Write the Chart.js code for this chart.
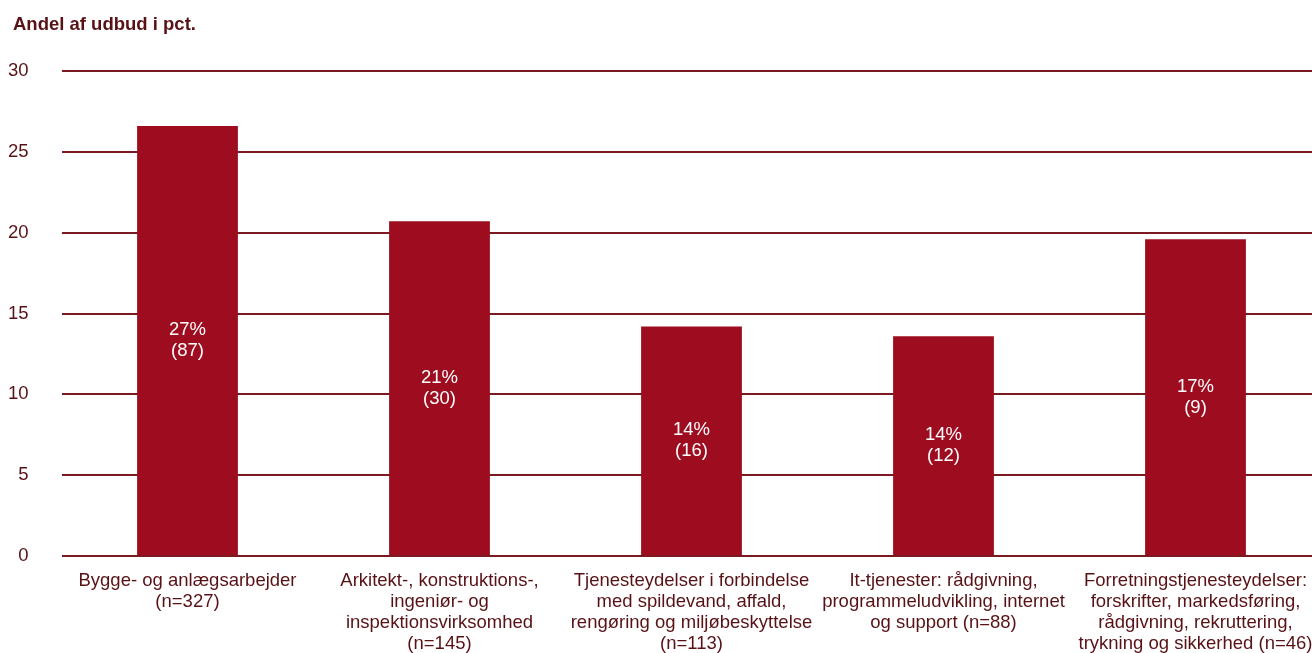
<!DOCTYPE html>
<html lang="da">
<head>
<meta charset="utf-8">
<title>Andel af udbud i pct.</title>
<script src="https://cdn.jsdelivr.net/npm/chart.js@4.4.1/dist/chart.umd.min.js"></script>
<style>
  html, body { margin: 0; padding: 0; background: #ffffff; overflow: hidden; }
  #wrap { position: absolute; left: 0; top: 0; width: 1322px; height: 653px; }
</style>
</head>
<body>
<div id="wrap"><canvas id="chart" width="1322" height="653"></canvas></div>
<script>
// Kategorier (udbudstyper) og antal udbud i hver kategori
const categories = [
  ["Bygge- og anlægsarbejder"],
  ["Arkitekt-, konstruktions-,", "ingeniør- og", "inspektionsvirksomhed"],
  ["Tjenesteydelser i forbindelse", "med spildevand, affald,", "rengøring og miljøbeskyttelse"],
  ["It-tjenester: rådgivning,", "programmeludvikling, internet", "og support"],
  ["Forretningstjenesteydelser:", "forskrifter, markedsføring,", "rådgivning, rekruttering,", "trykning og sikkerhed"]
];
const totals = [327, 145, 113, 88, 46];

// Andel af udbud i pct. (søjlehøjder)
const shares = [26.6, 20.7, 14.2, 13.6, 19.6];

// Tekst i søjlerne: procent og antal
const pctLabels = ["27%", "21%", "14%", "14%", "17%"];
const counts = [87, 30, 16, 12, 9];

// Y-aksens ticks
const yTicks = [0, 5, 10, 15, 20, 25, 30];

const yTitle = "Andel af udbud i pct.";

// "(n=...)" på egen linje, eller sammen med sidste tekstlinje for de to sidste kategorier
const xLabels = categories.map((lines, i) => {
  const out = lines.slice();
  const n = "(n=" + totals[i] + ")";
  if (i === 3 || i === 4) {
    out[out.length - 1] = out[out.length - 1] + " " + n;
  } else {
    out.push(n);
  }
  return out;
});

const FONT = "'Liberation Sans', Arial, Helvetica, sans-serif";
const BAR = "#9d0d1f";
const GRID = "#7a1a20";
const TEXT = "#581115";

const titlePlugin = {
  id: "axisTitleTop",
  afterDraw(chart) {
    const ctx = chart.ctx;
    ctx.save();
    ctx.fillStyle = TEXT;
    ctx.font = "bold 18.5px " + FONT;
    ctx.textAlign = "left";
    ctx.textBaseline = "alphabetic";
    ctx.fillText(yTitle, 13, 29.5);
    ctx.restore();
  }
};

const barTextPlugin = {
  id: "barText",
  afterDatasetsDraw(chart) {
    const ctx = chart.ctx;
    const meta = chart.getDatasetMeta(0);
    ctx.save();
    ctx.fillStyle = "#ffffff";
    ctx.font = "18.5px " + FONT;
    ctx.textAlign = "center";
    ctx.textBaseline = "middle";
    meta.data.forEach((bar, i) => {
      const mid = (bar.y + bar.base) / 2;
      ctx.fillText(pctLabels[i], bar.x, mid - 10.5);
      ctx.fillText("(" + counts[i] + ")", bar.x, mid + 10.5);
    });
    ctx.restore();
  }
};

new Chart(document.getElementById("chart"), {
  type: "bar",
  data: {
    labels: xLabels,
    datasets: [{
      data: shares,
      backgroundColor: BAR,
      borderWidth: 0,
      categoryPercentage: 1,
      barPercentage: 0.4
    }]
  },
  options: {
    responsive: false,
    animation: false,
    devicePixelRatio: 1,
    layout: { padding: { top: 71, left: 0, right: 0.5, bottom: 0 } },
    plugins: {
      legend: { display: false },
      tooltip: { enabled: false },
      title: { display: false }
    },
    scales: {
      x: {
        grid: { display: false, drawTicks: false },
        border: { display: false },
        ticks: {
          color: TEXT,
          font: { family: FONT, size: 18.5, lineHeight: 21 / 18.5 },
          padding: 14,
          autoSkip: false,
          maxRotation: 0,
          minRotation: 0
        },
        afterFit(scale) {
          scale.height = 97;
          // labels may run to the edge; keep the plot area full width
          scale.paddingLeft = 0;
          scale.paddingRight = 0;
        }
      },
      y: {
        min: 0,
        max: 30,
        afterBuildTicks(scale) { scale.ticks = yTicks.map(v => ({ value: v })); },
        grid: { color: GRID, lineWidth: 2, drawTicks: false },
        border: { display: false },
        ticks: {
          color: TEXT,
          font: { family: FONT, size: 18.5 },
          padding: 33
        },
        afterFit(scale) { scale.width = 61.5; }
      }
    }
  },
  plugins: [titlePlugin, barTextPlugin]
});
</script>
</body>
</html>
